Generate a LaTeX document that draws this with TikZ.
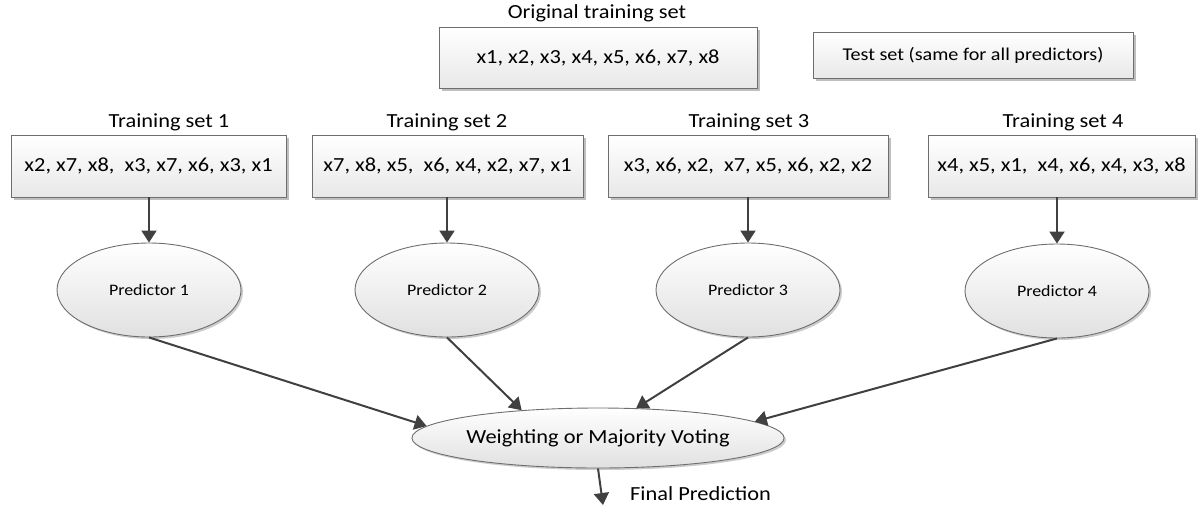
\documentclass[tikz,border=0pt]{standalone}
\usepackage{fontspec}
\setmainfont{Carlito}[FakeStretch=1.12]
\usetikzlibrary{shapes.geometric,arrows.meta,shadows}
\definecolor{edge}{HTML}{404040}
\definecolor{rim}{HTML}{6E6E6E}
\tikzset{
  setbox/.style={draw=rim, line width=0.9pt, rectangle, top color=white, bottom color=black!9,
    drop shadow={shadow xshift=2.5pt, shadow yshift=-2.5pt, opacity=0.25, fill=black},
    inner sep=0pt, font=\fontsize{20}{24}\selectfont},
  predictor/.style={draw=rim, line width=0.9pt, ellipse, top color=white, bottom color=black!12,
    drop shadow={shadow xshift=2pt, shadow yshift=-2pt, opacity=0.2, fill=black},
    inner sep=0pt, minimum width=184pt, minimum height=94pt, font=\fontsize{16}{19}\selectfont},
  caption/.style={anchor=base, inner sep=0pt, font=\fontsize{20}{24}\selectfont},
  flow/.style={draw=edge, line width=2pt, -{Triangle[length=12pt,width=15pt]}},
}
\begin{document}
\begin{tikzpicture}[x=1pt,y=-1pt]
\useasboundingbox (0,0) rectangle (1202,507);

% original data and test data
\node[caption] (origcap) at (597,18) {Original training set};
\node[setbox, minimum width=318pt, minimum height=61pt] (orig) at (598,57.5) {x1, x2, x3, x4, x5, x6, x7, x8};
\node[setbox, minimum width=320pt, minimum height=46pt, font=\fontsize{18}{22}\selectfont] (test) at (973,55) {Test set (same for all predictors)};

% bootstrap samples
\node[caption] (cap1) at (169,127) {Training set 1};
\node[caption] (cap2) at (447,127) {Training set 2};
\node[caption] (cap3) at (749,127) {Training set 3};
\node[caption] (cap4) at (1063,127) {Training set 4};

\node[setbox, minimum width=275pt, minimum height=62pt] (ts1) at (148.5,166) {x2, x7, x8,\ \ x3, x7, x6, x3, x1};
\node[setbox, minimum width=271pt, minimum height=62pt] (ts2) at (447.5,166) {x7, x8, x5,\ \ x6, x4, x2, x7, x1};
\node[setbox, minimum width=280pt, minimum height=62pt] (ts3) at (748,166) {x3, x6, x2,\ \ x7, x5, x6, x2, x2};
\node[setbox, minimum width=267pt, minimum height=62pt] (ts4) at (1061.5,166) {x4, x5, x1,\ \ x4, x6, x4, x3, x8};

% base learners
\node[predictor] (p1) at (149,290) {Predictor 1};
\node[predictor] (p2) at (447,290) {Predictor 2};
\node[predictor] (p3) at (748,290) {Predictor 3};
\node[predictor] (p4) at (1057,291) {Predictor 4};

% aggregation
\node[predictor, minimum width=358pt, minimum height=60pt, font=\fontsize{20}{24}\selectfont] (vote) at (598,438) {Weighting or Majority Voting};
\coordinate (out) at (603,505);
\node[anchor=base west, inner sep=0pt, font=\fontsize{20}{24}\selectfont] (final) at (630,500) {Final Prediction};

% vertical feeds from each sample to its learner
\draw[flow] (ts1.south -| p1.north) -- (p1.north);
\draw[flow] (ts2.south -| p2.north) -- (p2.north);
\draw[flow] (ts3.south -| p3.north) -- (p3.north);
\draw[flow] (ts4.south -| p4.north) -- (p4.north);

\draw[flow] (p1.south) -- (vote.176);
\draw[flow] (p2.south) -- (vote.160);
\draw[flow] (p3.south) -- (vote.38);
\draw[flow] (p4.south) -- (vote.6);
\draw[flow] (vote.south) -- (out);
\end{tikzpicture}
\end{document}
